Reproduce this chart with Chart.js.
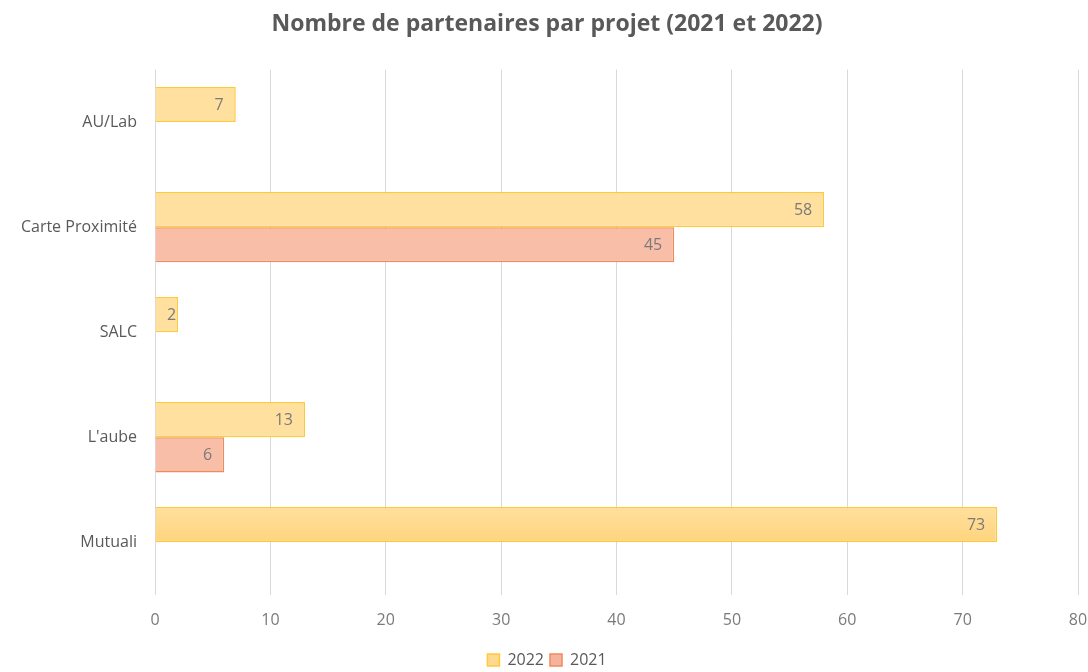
<!DOCTYPE html>
<html>
<head>
<meta charset="utf-8">
<script src="https://cdn.jsdelivr.net/npm/chart.js@4.4.1/dist/chart.umd.min.js"></script>
<style>
html,body{margin:0;padding:0;background:#fff;}
#wrap{width:1088px;height:672px;}
</style>
</head>
<body>
<div id="wrap"><canvas id="c" width="1088" height="672"></canvas></div>
<script>
const categories = ['AU/Lab', 'Carte Proximité', 'SALC', "L'aube", 'Mutuali'];
const values2022 = [7, 58, 2, 13, 73];
const values2021 = [null, 45, null, 6, null];
const xTicks = [0, 10, 20, 30, 40, 50, 60, 70, 80];

const FONT = "'Open Sans', 'DejaVu Sans', sans-serif";
const PAD_LEFT = 16;
const GRADIENTS = [['#FFE09E', '#FFD47E'], ['#F8BEA8', '#F2A484']];

const gradientPlugin = {
  id: 'barGradients',
  beforeDatasetsDraw(chart) {
    const ctx = chart.ctx;
    chart.data.datasets.forEach((ds, di) => {
      const meta = chart.getDatasetMeta(di);
      meta.data.forEach((bar) => {
        if (!bar || !bar.options || !isFinite(bar.y) || !isFinite(bar.height)) return;
        const g = ctx.createLinearGradient(0, bar.y - bar.height / 2, 0, bar.y + bar.height / 2);
        g.addColorStop(0, GRADIENTS[di][0]);
        g.addColorStop(1, GRADIENTS[di][1]);
        bar.options.backgroundColor = g;
      });
    });
  }
};

const labelPlugin = {
  id: 'insideEndLabels',
  afterDatasetsDraw(chart) {
    const ctx = chart.ctx;
    ctx.save();
    ctx.font = '16px ' + FONT;
    ctx.fillStyle = '#7a7a7a';
    ctx.textAlign = 'right';
    ctx.textBaseline = 'middle';
    chart.data.datasets.forEach((ds, di) => {
      const meta = chart.getDatasetMeta(di);
      meta.data.forEach((bar, i) => {
        const v = ds.data[i];
        if (v === null || v === undefined) return;
        const txt = String(v);
        const w = ctx.measureText(txt).width;
        let x = bar.x - 12;
        if (x - w < bar.base + 2) x = bar.x - 2;
        ctx.fillText(txt, x, bar.y + 1);
      });
    });
    ctx.restore();
  }
};

new Chart(document.getElementById('c'), {
  type: 'bar',
  data: {
    labels: categories,
    datasets: [
      {
        label: '2022',
        data: values2022,
        backgroundColor: '#FFDA8E',
        borderColor: '#FFC93A',
        borderWidth: 1.5,
        categoryPercentage: 0.67,
        barPercentage: 1.0
      },
      {
        label: '2021',
        data: values2021,
        backgroundColor: '#F4B39C',
        borderColor: '#EF8C5C',
        borderWidth: 1.5,
        categoryPercentage: 0.67,
        barPercentage: 1.0
      }
    ]
  },
  options: {
    indexAxis: 'y',
    responsive: false,
    animation: false,
    layout: { padding: { left: PAD_LEFT, right: 10, top: 11, bottom: -6 } },
    plugins: {
      title: {
        display: true,
        text: 'Nombre de partenaires par projet (2021 et 2022)',
        color: '#595959',
        font: { family: FONT, size: 23, weight: 'bold' },
        padding: { top: 0, bottom: 31 }
      },
      legend: {
        position: 'bottom',
        labels: {
          color: '#595959',
          font: { family: FONT, size: 16 },
          boxWidth: 12,
          boxHeight: 12,
          padding: 6
        }
      },
      tooltip: { enabled: false }
    },
    scales: {
      x: {
        min: 0,
        max: 80,
        afterBuildTicks(scale) { scale.ticks = xTicks.map(v => ({ value: v })); },
        afterFit(scale) { scale.paddingLeft = 0; scale.paddingRight = 0; },
        grid: { color: '#d9d9d9', lineWidth: 1, drawTicks: false },
        border: { display: false },
        ticks: {
          color: '#7a7a7a',
          font: { family: FONT, size: 16 },
          padding: 16,
          maxRotation: 0
        }
      },
      y: {
        afterFit(scale) { scale.width = 155 - PAD_LEFT; },
        grid: { display: false, drawTicks: false },
        border: { display: false },
        ticks: {
          color: '#595959',
          font: { family: FONT, size: 16 },
          padding: 18
        }
      }
    }
  },
  plugins: [gradientPlugin, labelPlugin]
});
</script>
</body>
</html>
